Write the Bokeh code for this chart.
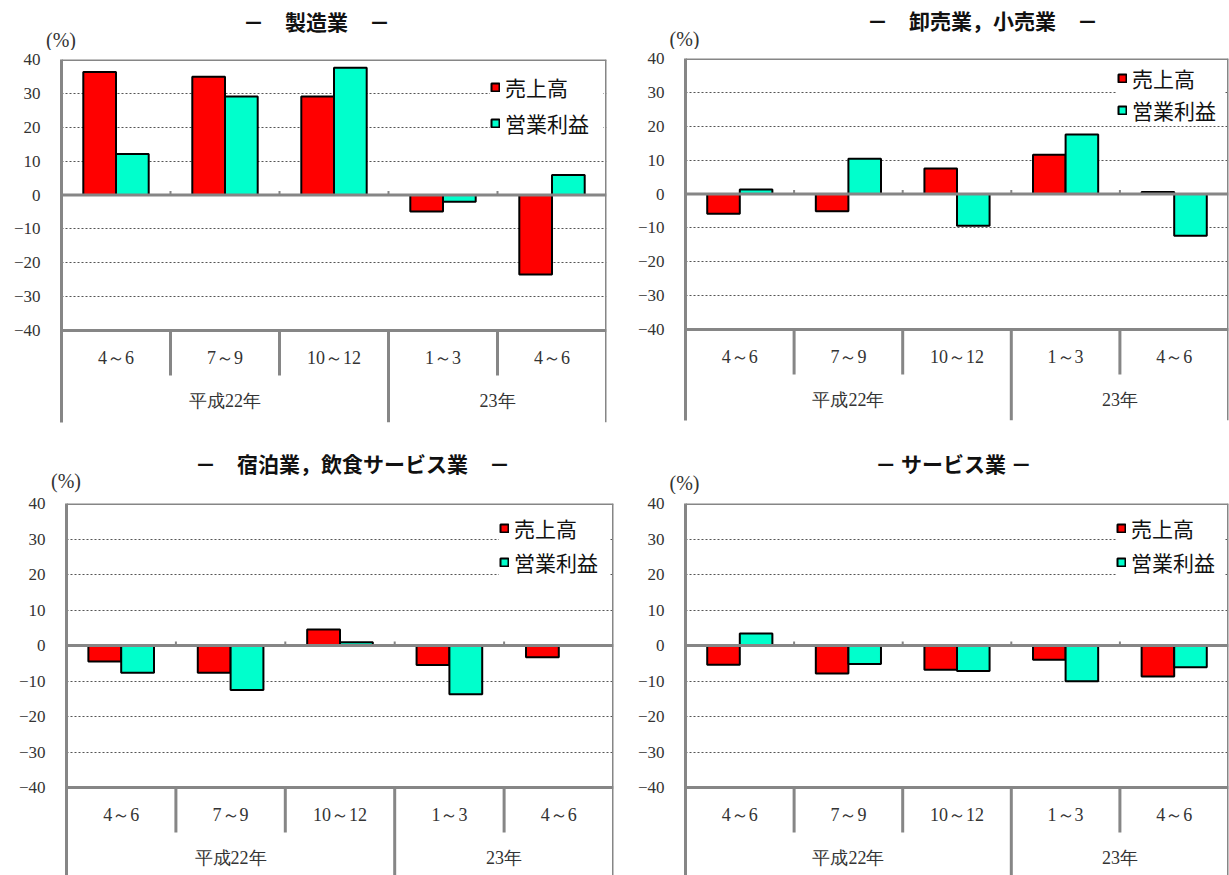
from bokeh.plotting import figure
from bokeh.models import (FactorRange, ColumnDataSource, FixedTicker, Span,
                          Legend, LegendItem)
from bokeh.transform import dodge
from bokeh.layouts import column, row
from bokeh.embed import file_html
from bokeh.resources import INLINE

nan = float("nan")

# ---------------- data ----------------
periods = ["4～6", "7～9", "10～12", "1～3", "4～6"]
years = ["平成22年", "平成22年", "平成22年", "23年", "23年"]
series_names = ["売上高", "営業利益"]
y_ticks = [-40, -30, -20, -10, 0, 10, 20, 30, 40]
unit_label = "(%)"

titles = ["－　製造業　－", "－　卸売業，小売業　－",
          "－　宿泊業，飲食サービス業　－", "－ サービス業 －"]

sales_mfg = [36.3, 34.9, 29.1, -4.9, -23.5]
profit_mfg = [12.1, 29.1, 37.6, -2.0, 5.9]

sales_trade = [-5.8, -5.1, 7.5, 11.6, 0.6]
profit_trade = [1.3, 10.4, -9.4, 17.6, -12.3]

sales_hotel = [-4.5, -7.7, 4.5, -5.5, -3.3]
profit_hotel = [-7.7, -12.5, 0.9, -13.7, nan]

sales_service = [-5.4, -7.9, -6.8, -4.0, -8.7]
profit_service = [3.4, -5.2, -7.2, -10.1, -6.1]

# ---------------- styles / layout ----------------
RED = "#FF0000"
TEAL = "#00FFCC"
GRAY = "#868686"
TXT = "#333333"
SERIF = "Liberation Serif"
GOTHIC = "Noto Sans CJK JP"
ITEM_H = 30

# panel-local pixel geometry
layout_cfg = [
    dict(W=614, H=430, L=61, R=606, T=59, M=330, B=422, tx=316, ty=20, px=60.5, py=39,
         gx=490, r1=87, r2=123),
    dict(W=615, H=430, L=71, R=614, T=58, M=329, B=420, tx=368, ty=19, px=70, py=38,
         gx=503, r1=78, r2=110),
    dict(W=614, H=445, L=66, R=613, T=73, M=357, B=445, tx=352, ty=32, px=65.5, py=50,
         gx=499, r1=98, r2=132),
    dict(W=615, H=445, L=71, R=614, T=73, M=357, B=445, tx=339, ty=32, px=70, py=52,
         gx=502, r1=98, r2=132),
]
TOP_PAD = 9
CAT_LABEL_PX = 27
GROUP_LABEL_PX = 70
SEP_PX = 45

data_sets = [(sales_mfg, profit_mfg), (sales_trade, profit_trade),
             (sales_hotel, profit_hotel), (sales_service, profit_service)]

factors = list(zip(years, periods))
groups = []
for y in years:
    if y not in groups:
        groups.append(y)
boundaries = list(range(1, len(periods)))
year_breaks = [i for i in boundaries if years[i] != years[i - 1]]
inner_breaks = [i for i in boundaries if years[i] == years[i - 1]]


def make_header(title, c):
    ht = c["T"] - TOP_PAD
    h = figure(width=c["W"], height=ht, x_range=(0, c["W"]), y_range=(ht, 0),
               output_backend="svg", toolbar_location=None, x_axis_location=None,
               y_axis_location=None, min_border=0, min_border_left=0,
               min_border_right=0, min_border_top=0, min_border_bottom=0, title=None,
               frame_align=False)
    h.outline_line_color = None
    h.grid.visible = False
    h.text(x=[c["tx"]], y=[c["ty"]], text=[title], text_align="center",
           text_baseline="middle", text_font={"value": GOTHIC}, text_font_size="21px",
           text_font_style="bold", text_color="#111111")
    h.text(x=[c["px"]], y=[c["py"]], text=[unit_label], text_align="center",
           text_baseline="middle", text_font={"value": SERIF}, text_font_size="20px",
           text_color=TXT)
    return h


def make_panel(sales, profit, c):
    ht = c["T"] - TOP_PAD
    scale = (c["M"] - c["T"]) / 80.0
    y_start = -40 - (c["B"] - c["M"]) / scale
    p = figure(x_range=FactorRange(factors=factors, factor_padding=0, group_padding=0,
                                   range_padding=0),
               y_range=(y_start, 40), width=c["W"], height=c["H"] - ht,
               output_backend="svg", toolbar_location=None, x_axis_location=None,
               min_border_left=c["L"], min_border_right=c["W"] - c["R"],
               min_border_top=TOP_PAD, min_border_bottom=c["H"] - c["B"],
               title=None, frame_align=False)
    p.outline_line_color = None

    ax = p.yaxis[0]
    ax.ticker = FixedTicker(ticks=y_ticks)
    ax.major_label_overrides = {t: (("−" + str(-t)) if t < 0 else str(t)) for t in y_ticks}
    ax.axis_line_color = GRAY
    ax.axis_line_width = 3
    ax.major_tick_line_color = None
    ax.minor_tick_line_color = None
    ax.major_tick_out = 0
    ax.major_label_standoff = 21
    ax.major_label_text_font = SERIF
    ax.major_label_text_font_size = "17px"
    ax.major_label_text_color = TXT

    p.xgrid.visible = False
    p.ygrid.ticker = FixedTicker(ticks=[t for t in y_ticks if t not in (-40, 0, 40)])
    p.ygrid.grid_line_color = "#555555"
    p.ygrid.grid_line_dash = "2 2"
    p.ygrid.grid_line_width = 1

    src = ColumnDataSource(dict(x=factors, sales=sales, profit=profit))
    r1 = p.vbar(x=dodge("x", -0.15, range=p.x_range), top="sales", bottom=0, width=0.3,
                source=src, fill_color=RED, line_color="black", line_width=2)
    r2 = p.vbar(x=dodge("x", 0.15, range=p.x_range), top="profit", bottom=0, width=0.3,
                source=src, fill_color=TEAL, line_color="black", line_width=2)

    p.add_layout(Span(location=40, dimension="width", line_color=GRAY, line_width=3))
    p.add_layout(Span(location=-40, dimension="width", line_color=GRAY, line_width=3))
    p.add_layout(Span(location=len(periods), dimension="height", line_color=GRAY,
                      line_width=3))
    p.add_layout(Span(location=0, dimension="width", line_color=GRAY, line_width=3))

    p.segment(x0=boundaries, y0=[0] * len(boundaries), x1=boundaries,
              y1=[4 / scale] * len(boundaries), line_color=GRAY, line_width=2)
    ysep = -40 - SEP_PX / scale
    p.segment(x0=inner_breaks, y0=[-40] * len(inner_breaks), x1=inner_breaks,
              y1=[ysep] * len(inner_breaks), line_color=GRAY, line_width=3)
    p.segment(x0=year_breaks, y0=[-40] * len(year_breaks), x1=year_breaks,
              y1=[y_start] * len(year_breaks), line_color=GRAY, line_width=3)

    p.text(x=factors, y=[-40 - CAT_LABEL_PX / scale] * len(factors), text=periods,
           text_align="center", text_baseline="middle", text_font_size="18px",
           text_font={"value": SERIF}, text_color=TXT)
    p.text(x=groups, y=[-40 - GROUP_LABEL_PX / scale] * len(groups), text=groups,
           text_align="center", text_baseline="middle", text_font_size="18px",
           text_font={"value": SERIF}, text_color=TXT)

    spacing = (c["r2"] - c["r1"]) - ITEM_H
    vy = c["B"] - (c["r2"] + ITEM_H / 2)
    vx = c["gx"] - c["L"]
    label_w = (c["R"] - c["gx"]) - 15 - 3
    legend = Legend(items=[LegendItem(label=series_names[0], renderers=[r1]),
                           LegendItem(label=series_names[1], renderers=[r2])],
                    location=(vx, vy), margin=0, padding=0,
                    spacing=spacing, glyph_width=10, glyph_height=10,
                    label_standoff=5, label_height=ITEM_H, label_width=label_w,
                    label_text_font=GOTHIC, label_text_font_size="21px",
                    label_text_color="#111111", border_line_color=None,
                    background_fill_color="white", background_fill_alpha=1.0)
    p.add_layout(legend)
    return p


cols = []
for t, (s, pr), c in zip(titles, data_sets, layout_cfg):
    cols.append(column(make_header(t, c), make_panel(s, pr, c), spacing=0))

page = column(row(cols[0], cols[1], spacing=0), row(cols[2], cols[3], spacing=0),
              spacing=0)

open("out.html", "w").write(file_html(page, INLINE))
